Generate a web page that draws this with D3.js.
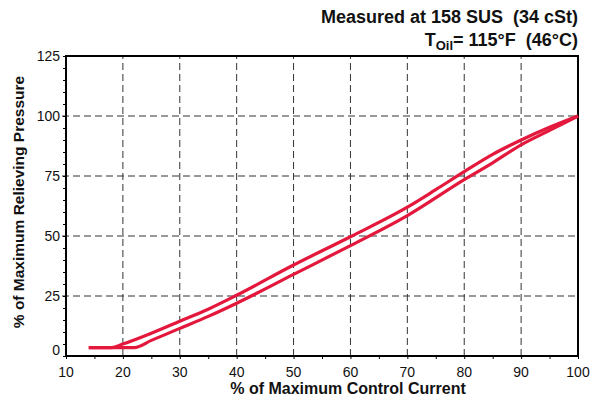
<!DOCTYPE html>
<html><head><meta charset="utf-8">
<script src="https://cdn.jsdelivr.net/npm/d3@7"></script>
<style>
body{margin:0;background:#fff;}
text{font-family:"Liberation Sans",Arial,Helvetica,sans-serif;white-space:pre;}
</style></head>
<body><svg id="c" width="594" height="399"></svg>
<script>
// Data
const xTicks = [10,20,30,40,50,60,70,80,90,100];
const yTicks = [0,25,50,75,100,125];
const increasingX = [14,18,22,25,30,35,40,50,60,70,80,85,90,95,100];
const increasingY = [3.5,3.5,3.5,6.5,11.5,16.5,22,34,46,58.5,73.5,80.5,88,94,100];
const decreasingX = [100,95,90,85,80,75,70,60,50,40,35,30,25,20,18,14];
const decreasingY = [100,95.3,90,84,76.8,69.3,62,49.7,37.9,25.3,19.5,14.5,9.5,5,3.5,3.5];
const titleLine1 = "Measured at 158 SUS  (34 cSt)";
const xTitle = "% of Maximum Control Current";
const yTitle = "% of Maximum Relieving Pressure";

const svg = d3.select("#c");
const m = {l:66, r:16, t:56, b:43};
const W = 594, H = 399;
const x = d3.scaleLinear().domain([10,100]).range([m.l, W-m.r]);
const y = d3.scaleLinear().domain([0,125]).range([H-m.b, m.t]);
const red = "#e3183c";

// grid
const g = svg.append("g");
g.selectAll(".vg").data(xTicks.filter(d=>d>10&&d<100)).join("line")
  .attr("x1",d=>x(d)).attr("x2",d=>x(d)).attr("y1",y(0)).attr("y2",y(125))
  .attr("stroke","#333").attr("stroke-width",1).attr("stroke-dasharray","7,4");
g.selectAll(".hg").data(yTicks.filter(d=>d>0&&d<125)).join("line")
  .attr("x1",x(10)-4).attr("x2",x(100)).attr("y1",d=>y(d)).attr("y2",d=>y(d))
  .attr("stroke","#333").attr("stroke-width",1).attr("stroke-dasharray","7,4");

// minor ticks via axes
const xAxis = svg.append("g").attr("transform",`translate(0,${y(0)})`)
  .call(d3.axisBottom(x).tickValues(d3.range(10,101,5)).tickSize(3).tickFormat(""));
const yAxis = svg.append("g").attr("transform",`translate(${x(10)},0)`)
  .call(d3.axisLeft(y).tickValues(d3.range(0,126,5)).tickSize(3).tickFormat(""));
[xAxis,yAxis].forEach(a=>{a.select(".domain").remove();a.selectAll("line").attr("stroke","#000").attr("stroke-width",1);});

// tick labels
svg.append("g").selectAll("text").data(xTicks).join("text")
  .attr("x",d=>x(d)).attr("y",y(0)+21).attr("text-anchor","middle")
  .attr("font-size",14).attr("fill","#111").text(d=>d);
svg.append("g").selectAll("text").data(yTicks).join("text")
  .attr("x",x(10)-6).attr("y",d=>y(d)+(d===0?-1:5)).attr("text-anchor","end")
  .attr("font-size",14).attr("fill","#111").text(d=>d);

// frame
svg.append("rect").attr("x",x(10)).attr("y",y(125)).attr("width",x(100)-x(10)).attr("height",y(0)-y(125))
  .attr("fill","none").attr("stroke","#000").attr("stroke-width",2);

// curves
const line = d3.line().x(d=>x(d[0])).y(d=>y(d[1])).curve(d3.curveMonotoneX);
svg.append("path").datum(d3.zip(increasingX,increasingY)).attr("d",line)
  .attr("fill","none").attr("stroke",red).attr("stroke-width",3.2).attr("stroke-linejoin","round");
svg.append("path").datum(d3.zip(decreasingX,decreasingY).reverse()).attr("d",line)
  .attr("fill","none").attr("stroke",red).attr("stroke-width",3.2).attr("stroke-linejoin","round");

// titles
svg.append("text").attr("x",578).attr("y",23).attr("text-anchor","end")
  .attr("font-size",18).attr("font-weight","bold").attr("fill","#111").text(titleLine1);
const t2 = svg.append("text").attr("x",578).attr("y",46).attr("text-anchor","end")
  .attr("font-size",18).attr("font-weight","bold").attr("fill","#111");
t2.append("tspan").text("T");
t2.append("tspan").attr("font-size",13).attr("dy",4).text("Oil");
t2.append("tspan").attr("dy",-4).text("= 115°F  (46°C)");

svg.append("text").attr("x",348).attr("y",394).attr("text-anchor","middle")
  .attr("font-size",16).attr("font-weight","bold").attr("fill","#111").text(xTitle);
svg.append("text").attr("transform",`translate(24,202) rotate(-90)`).attr("text-anchor","middle")
  .attr("font-size",15.5).attr("font-weight","bold").attr("fill","#111").text(yTitle);
</script></body></html>
